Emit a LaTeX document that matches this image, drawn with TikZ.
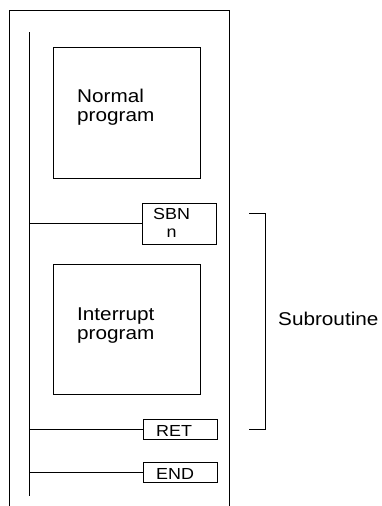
\documentclass[tikz,border=0pt]{standalone}
\usepackage{fontspec}
\setmainfont[FakeStretch=1.12]{Liberation Sans}
\usetikzlibrary{positioning}

\tikzset{
  progbox/.style={draw, line width=0.9, minimum width=147pt, inner sep=0pt},
  progtext/.style={font=\fontsize{18.5}{19}\selectfont, align=left, inner sep=0pt, anchor=west},
  instr/.style={draw, line width=0.9, minimum width=74pt, minimum height=20pt, inner sep=0pt},
  instrtext/.style={font=\fontsize{16}{18}\selectfont, align=center, inner sep=0pt, anchor=west}
}

\begin{document}
\begin{tikzpicture}[x=1pt, y=-1pt]
\useasboundingbox (0,0) rectangle (381,506);
\draw[line width=0.9](9,506) -- (9,10);
\draw[line width=0.9](9,10) -- (229,10);
\draw[line width=0.9](229,10) -- (229,506);
\coordinate (railtop) at (29,32);
\coordinate (railbot) at (29,496);
\draw[line width=0.9](railtop) -- (railbot);
\node[progbox, minimum height=131pt] (normal) at (126.5,112.5) {};
\node[progtext] (normaltext) at (77,107) {Normal\\program};
\node[instr, minimum height=41pt] (sbn) at (179.5,223.5) {};
\node[instrtext] (sbntext) at (153,223) {SBN\\n};
\draw[line width=0.9](railtop |- sbn.west) -- (sbn.west);
\node[progbox, minimum height=130pt] (interrupt) at (126.5,329) {};
\node[progtext] (interrupttext) at (77,326) {Interrupt\\program};
\node[instr] (ret) at (180,429.5) {};
\node[instrtext] (rettext) at (156,431) {RET};
\draw[line width=0.9](railtop |- ret.west) -- (ret.west);
\node[instr] (end) at (180,472.5) {};
\node[instrtext] (endtext) at (156,474) {END};
\draw[line width=0.9](railtop |- end.west) -- (end.west);
\draw[line width=0.9](249,213.5) -| (265,429.5) -- (249,429.5);
\node[progtext] (subroutine) at (278,318.5) {Subroutine};
\end{tikzpicture}
\end{document}
